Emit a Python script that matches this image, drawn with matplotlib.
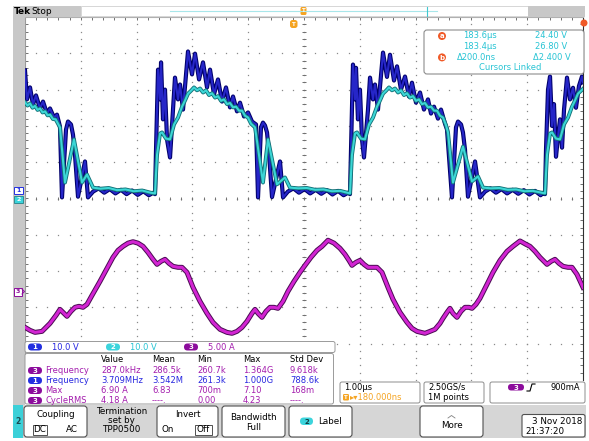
import numpy as np
import matplotlib
matplotlib.use("Agg")
import matplotlib.pyplot as plt
from matplotlib.patches import FancyBboxPatch, Rectangle, Circle
from matplotlib.collections import LineCollection

plt.rcParams['font.family'] = ['DejaVu Sans']

W, H = 589, 441

# acquisition settings
TIME_DIV = 1.0      # us/div
CH1_SCALE = 10.0    # V/div
CH2_SCALE = 10.0    # V/div
CH3_SCALE = 5.0     # A/div
CH3_POS = -2.53     # div

# channel 1: switch node, (time us, volts)
ch1_points = [
    (-5.000, 35.3), (-4.964, 27.3), (-4.910, 30.6), (-4.857, 25.9), (-4.803, 28.4),
    (-4.731, 24.8), (-4.677, 26.7), (-4.606, 23.4), (-4.552, 24.8), (-4.480, 22.3),
    (-4.427, 23.1), (-4.373, 19.8), (-4.337, 0.3), (-4.265, 19.0), (-4.229, 21.2),
    (-4.176, 20.4), (-4.140, 17.6), (-4.104, 12.0), (-4.050, 0.5), (-3.925, 10.2),
    (-3.871, 0.3), (-3.780, 1.9), (-3.68, 2.8), (-3.58, 1.6), (-3.48, 2.6),
    (-3.38, 1.4), (-3.28, 2.4), (-3.18, 1.2), (-3.08, 2.2), (-2.98, 1.0),
    (-2.88, 2.0), (-2.78, 0.9), (-2.70, 1.6),
    (-2.670, 1.2), (-2.652, 13.5), (-2.616, 35.5), (-2.580, 27.3), (-2.562, 37.5),
    (-2.527, 21.8), (-2.491, 30.0), (-2.455, 16.3), (-2.401, 11.3), (-2.347, 24.5),
    (-2.312, 33.3), (-2.258, 27.3), (-2.222, 31.4), (-2.168, 24.5), (-2.079, 40.5),
    (-2.007, 34.2), (-1.953, 39.9), (-1.881, 32.8), (-1.810, 37.5), (-1.738, 30.6),
    (-1.684, 35.5), (-1.613, 28.7), (-1.541, 32.8), (-1.469, 26.7), (-1.398, 30.6),
    (-1.326, 25.1), (-1.272, 28.1), (-1.201, 24.0), (-1.147, 26.4), (-1.075, 22.6),
    (-1.003, 23.7), (-0.932, 21.2), (-0.860, 20.4), (-0.824, 0.3), (-0.771, 19.6),
    (-0.735, 20.9), (-0.699, 20.1), (-0.663, 18.2), (-0.627, 12.5), (-0.573, 0.4),
    (-0.430, 10.2), (-0.376, 0.3), (-0.29, 1.9), (-0.19, 2.8), (-0.09, 1.6),
    (0.01, 2.6), (0.11, 1.4), (0.21, 2.4), (0.31, 1.3), (0.41, 2.3),
    (0.51, 1.1), (0.61, 2.1), (0.71, 0.9), (0.79, 1.6),
    (0.824, 1.2), (0.842, 13.5), (0.878, 36.9), (0.914, 27.3), (0.932, 36.0),
    (0.967, 21.8), (1.003, 30.0), (1.039, 16.3), (1.075, 11.3), (1.147, 24.5),
    (1.183, 33.3), (1.236, 27.3), (1.272, 31.4), (1.326, 24.5), (1.416, 40.2),
    (1.487, 33.5), (1.541, 39.6), (1.613, 32.5), (1.667, 36.4), (1.738, 30.0),
    (1.810, 33.6), (1.881, 28.1), (1.935, 31.9), (2.007, 26.4), (2.079, 29.2),
    (2.150, 24.5), (2.222, 27.3), (2.276, 23.4), (2.330, 25.3), (2.401, 22.0),
    (2.455, 24.5), (2.527, 20.6), (2.563, 19.0), (2.652, 0.3), (2.724, 19.6),
    (2.760, 21.2), (2.814, 20.4), (2.849, 18.2), (2.885, 13.5), (2.939, 0.5),
    (3.065, 10.2), (3.154, 0.3), (3.244, 1.9), (3.34, 2.8), (3.44, 1.6),
    (3.54, 2.6), (3.64, 1.4), (3.74, 2.4), (3.84, 1.3), (3.94, 2.3),
    (4.04, 1.1), (4.14, 2.1), (4.24, 0.9), (4.29, 1.6),
    (4.319, 1.2), (4.337, 13.5), (4.373, 30.0), (4.409, 33.6), (4.445, 20.0),
    (4.480, 26.0), (4.516, 11.5), (4.552, 17.0), (4.588, 21.8), (4.624, 14.0),
    (4.660, 24.5), (4.713, 33.3), (4.767, 27.3), (4.821, 30.5), (4.874, 25.0),
    (4.928, 31.0), (4.982, 33.6), (5.000, 32.0),
]

# channel 2: same node through the second probe (time us, volts)
ch2_points = [
    (-5.000, 26.5), (-4.955, 25.6), (-4.910, 26.2), (-4.865, 25.0), (-4.820, 25.5),
    (-4.775, 24.4), (-4.730, 24.8), (-4.685, 23.7), (-4.640, 24.0), (-4.595, 22.9),
    (-4.550, 23.1), (-4.500, 21.9), (-4.450, 21.8), (-4.373, 19.6), (-4.283, 4.4),
    (-4.122, 16.3), (-3.978, 4.4), (-3.889, 6.6), (-3.781, 3.0), (-3.65, 2.7),
    (-3.50, 2.9), (-3.35, 2.3), (-3.20, 2.5), (-3.05, 2.0), (-2.90, 2.2),
    (-2.75, 1.6), (-2.670, 1.4),
    (-2.634, 12.0), (-2.580, 17.9), (-2.544, 18.2), (-2.473, 16.5), (-2.401, 16.3),
    (-2.329, 20.4), (-2.257, 22.3), (-2.186, 25.3), (-2.132, 27.0), (-2.078, 28.9),
    (-2.024, 29.7), (-1.971, 30.6), (-1.917, 29.8), (-1.863, 30.3), (-1.809, 29.2),
    (-1.756, 29.8), (-1.702, 28.5), (-1.648, 29.0), (-1.594, 27.8), (-1.541, 28.2),
    (-1.487, 26.9), (-1.433, 27.3), (-1.379, 26.0), (-1.326, 26.3), (-1.272, 25.1),
    (-1.218, 25.3), (-1.164, 24.2), (-1.111, 24.2), (-1.057, 22.8), (-1.003, 22.3),
    (-0.949, 20.6), (-0.878, 19.6), (-0.735, 4.4), (-0.645, 16.3), (-0.484, 3.9),
    (-0.341, 5.8), (-0.251, 3.0), (-0.10, 2.8), (0.05, 2.9), (0.20, 2.4),
    (0.35, 2.5), (0.50, 2.0), (0.65, 2.1), (0.78, 1.6), (0.824, 1.4),
    (0.860, 12.0), (0.914, 17.9), (0.950, 18.2), (1.021, 16.5), (1.093, 16.3),
    (1.165, 20.4), (1.237, 22.3), (1.308, 25.3), (1.362, 27.0), (1.416, 28.9),
    (1.470, 29.7), (1.523, 30.6), (1.577, 29.8), (1.631, 30.3), (1.685, 29.2),
    (1.738, 29.8), (1.792, 28.5), (1.846, 29.0), (1.900, 27.8), (1.953, 28.2),
    (2.007, 26.9), (2.061, 27.3), (2.115, 26.0), (2.168, 26.3), (2.222, 25.1),
    (2.276, 25.3), (2.330, 24.2), (2.383, 24.2), (2.437, 22.8), (2.491, 22.3),
    (2.545, 20.2), (2.581, 18.2), (2.670, 4.4), (2.849, 14.3), (3.011, 4.7),
    (3.118, 6.1), (3.208, 3.0), (3.35, 2.8), (3.50, 2.9), (3.65, 2.4),
    (3.80, 2.5), (3.95, 2.0), (4.10, 2.1), (4.25, 1.6), (4.319, 1.4),
    (4.355, 12.0), (4.409, 17.9), (4.445, 18.2), (4.516, 16.5), (4.588, 16.3),
    (4.660, 20.4), (4.732, 22.3), (4.803, 25.3), (4.857, 27.0), (4.911, 28.9),
    (4.965, 29.7), (5.000, 30.2),
]

# channel 3: inductor current (time us, amps)
ch3_points = [
    (-5.000, -5.10), (-4.910, -5.51), (-4.821, -5.79), (-4.695, -5.65), (-4.552, -4.55),
    (-4.444, -3.44), (-4.373, -2.62), (-4.301, -3.17), (-4.247, -3.58), (-4.176, -2.89),
    (-4.104, -2.34), (-4.032, -2.20), (-3.961, -2.34), (-3.889, -1.93), (-3.799, -0.69),
    (-3.656, 1.24), (-3.530, 3.03), (-3.423, 4.55), (-3.333, 5.51), (-3.244, 6.06),
    (-3.154, 6.50), (-3.065, 6.70), (-2.975, 6.50), (-2.885, 6.06), (-2.796, 5.23),
    (-2.706, 4.27), (-2.634, 3.58), (-2.563, 3.99), (-2.491, 4.27), (-2.419, 3.72),
    (-2.348, 3.31), (-2.258, 3.17), (-2.186, 3.17), (-2.097, 2.48), (-1.989, 0.41),
    (-1.864, -1.52), (-1.738, -3.17), (-1.631, -4.41), (-1.505, -5.37), (-1.380, -5.79),
    (-1.290, -5.92), (-1.201, -5.65), (-1.111, -5.10), (-1.022, -4.27), (-0.932, -3.17),
    (-0.878, -2.62), (-0.824, -3.17), (-0.753, -3.72), (-0.681, -2.89), (-0.609, -2.34),
    (-0.538, -2.34), (-0.466, -2.48), (-0.376, -1.52), (-0.287, -0.14), (-0.179, 1.24),
    (-0.072, 2.48), (0.018, 3.44), (0.125, 4.55), (0.233, 5.51), (0.323, 6.06),
    (0.430, 6.90), (0.538, 6.50), (0.645, 5.79), (0.735, 4.96), (0.806, 4.13),
    (0.860, 3.44), (0.932, 3.86), (1.004, 4.13), (1.075, 3.58), (1.147, 3.17),
    (1.237, 3.17), (1.308, 3.17), (1.398, 2.48), (1.505, 0.41), (1.595, -1.24),
    (1.720, -3.03), (1.846, -4.41), (1.935, -5.23), (2.025, -5.65), (2.168, -5.92),
    (2.258, -5.65), (2.348, -5.37), (2.437, -4.55), (2.491, -3.86), (2.563, -3.03),
    (2.616, -2.48), (2.670, -3.17), (2.742, -3.72), (2.814, -2.89), (2.885, -2.34),
    (2.957, -2.34), (3.011, -2.48), (3.082, -1.93), (3.154, -1.10), (3.280, 0.83),
    (3.387, 2.48), (3.513, 4.13), (3.638, 5.37), (3.745, 6.06), (3.871, 6.80),
    (3.978, 6.34), (4.050, 6.06), (4.140, 5.37), (4.229, 4.55), (4.355, 3.58),
    (4.427, 3.99), (4.498, 4.27), (4.570, 3.72), (4.642, 3.31), (4.731, 3.17),
    (4.803, 3.17), (4.892, 2.20), (5.000, 0.41),
]

# readouts
channel_scales = ["10.0 V", "10.0 V", "5.00 A"]
meas_header = ["Value", "Mean", "Min", "Max", "Std Dev"]
meas_rows = [
    ("3", "Frequency", ["287.0kHz", "286.5k", "260.7k", "1.364G", "9.618k"]),
    ("1", "Frequency", ["3.709MHz", "3.542M", "261.3k", "1.000G", "788.6k"]),
    ("3", "Max", ["6.90 A", "6.83", "700m", "7.10", "168m"]),
    ("3", "CycleRMS", ["4.18 A", "----.", "0.00", "4.23", "----."]),
]
cursor_rows = [
    ("a", "183.6\u00b5s", "24.40 V"),
    ("", "183.4\u00b5s", "26.80 V"),
    ("b", "\u0394200.0ns", "\u03942.400 V"),
]

CH1_DARK, CH1_COL = '#00006a', '#2626c8'
CH2_DARK, CH2_COL = '#127278', '#3cd6d6'
CH3_DARK, CH3_COL = '#4a0c52', '#d224d2'
BLUE_TXT = '#2828e0'
CYAN_TXT = '#28c4d4'
PURPLE_TXT = '#a41eae'
PILL = {'1': '#2430e0', '2': '#3cd4dc', '3': '#8c0c9c'}
ORANGE = '#f5a422'
GRAY = '#c8c8c8'

fig = plt.figure(figsize=(W / 100, H / 100), dpi=100)

# ---- graticule ----
ax = fig.add_axes([25 / W, 1 - 380 / H, 558 / W, 363 / H])
ax.set_xlim(-5, 5)
ax.set_ylim(-5, 5)
ax.set_xticks([])
ax.set_yticks([])
for s in ['bottom']:
    ax.spines[s].set_visible(False)
ax.spines['left'].set_color('#9a9a9a')
ax.spines['top'].set_color('#b0b0b0')
ax.spines['right'].set_color('#303030')
for s in ['left', 'top', 'right']:
    ax.spines[s].set_linewidth(0.8)

minor = np.arange(-5, 5.001, 0.2)
for g in range(-4, 5):
    if g == 0:
        continue
    ax.plot(np.full_like(minor, g), minor, ls='none', marker='s', ms=0.9,
            mew=0, color='#8a8a8a', zorder=1)
    ax.plot(minor, np.full_like(minor, g), ls='none', marker='s', ms=0.9,
            mew=0, color='#8a8a8a', zorder=1)

segs = []
for m in minor:
    segs.append([(m, -0.05), (m, 0.05)])       # centre horizontal
    segs.append([(-0.04, m), (0.04, m)])       # centre vertical
    segs.append([(m, 5), (m, 4.93)])           # top edge
    segs.append([(-5, m), (-4.94, m)])         # left edge
    segs.append([(5, m), (4.94, m)])           # right edge
ax.add_collection(LineCollection(segs, colors='#707070', linewidths=0.7, zorder=1))
ax.plot(minor, np.zeros_like(minor), ls='none', marker='s', ms=0.9, mew=0, color='#707070')
ax.plot(np.zeros_like(minor), minor, ls='none', marker='s', ms=0.9, mew=0, color='#707070')


def trace(points, scale, pos, dark, col, wd, wc):
    t = np.array([p[0] for p in points]) / TIME_DIV
    y = np.array([p[1] for p in points]) / scale + pos
    ax.plot(t, y, color=dark, lw=wd, solid_joinstyle='round', zorder=3)
    ax.plot(t, y, color=col, lw=wc, solid_joinstyle='round', zorder=3)


trace(ch1_points, CH1_SCALE, 0.0, CH1_DARK, CH1_COL, 3.0, 1.5)
trace(ch2_points, CH2_SCALE, 0.0, CH2_DARK, CH2_COL, 2.8, 1.5)
trace(ch3_points, CH3_SCALE, CH3_POS, CH3_DARK, CH3_COL, 3.6, 2.2)

# ---- screen furniture, in pixel coordinates ----
ov = fig.add_axes([0, 0, 1, 1])
ov.set_xlim(0, W)
ov.set_ylim(H, 0)
ov.axis('off')
ov.patch.set_alpha(0)


def rect(x0, y0, x1, y1, fc, ec='none', lw=0.8, r=0):
    if r:
        p = FancyBboxPatch((x0, y0), x1 - x0, y1 - y0,
                           boxstyle=f"round,pad=0,rounding_size={r}",
                           fc=fc, ec=ec, lw=lw)
    else:
        p = Rectangle((x0, y0), x1 - x0, y1 - y0, fc=fc, ec=ec, lw=lw)
    ov.add_patch(p)


def txt(x, y, s, c='black', size=6, ha='left', **kw):
    ov.text(x, y, s, color=c, fontsize=size, ha=ha, va='center', **kw)


def pill(x0, y0, x1, y1, label, fc, tc='white'):
    rect(x0, y0, x1, y1, fc, r=(y1 - y0) / 2)
    txt((x0 + x1) / 2, (y0 + y1) / 2 + 0.3, label, tc, size=5, ha='center',
        weight='bold')


# left strip and top bar
rect(13, 6, 24.5, 405, GRAY)
rect(13, 6, 81, 16.5, GRAY)
txt(14, 11.5, "Tek", size=6.5, weight='bold')
txt(31, 11.5, "Stop", size=6.5)
rect(81, 6, 528, 16, 'white', ec='#d0d0d0', lw=0.6)
ov.plot([170, 437], [11, 11], color='#a8e6ea', lw=0.8)
ov.plot([427, 427], [7, 16], color='#40c8d0', lw=0.8)
rect(528, 6, 585, 16.5, GRAY)
rect(300.5, 7, 306.5, 15, ORANGE, r=1.5)
txt(303.5, 11, "T", 'white', size=4, ha='center', weight='bold')
rect(290, 20, 297.5, 28, ORANGE, r=2.5)
txt(293.8, 24, "T", 'white', size=4, ha='center', weight='bold')
ov.add_patch(Circle((584, 23), 3.5, fc='#f05a28', ec='none'))

# channel ground markers
rect(14, 187, 23, 194, 'white', ec=PILL['1'], lw=0.7)
txt(18.5, 190.5, "1", PILL['1'], size=4.5, ha='center', weight='bold')
rect(14, 196, 23, 203, PILL['2'], ec=CH2_DARK, lw=0.5)
txt(18.5, 199.5, "2", 'white', size=4.5, ha='center', weight='bold')
rect(13.5, 287.5, 22, 295.5, 'white', ec=PILL['3'], lw=0.7)
txt(17.8, 291.5, "3", PILL['3'], size=4.5, ha='center', weight='bold')
ov.plot([22, 24.5, 22], [289, 291.5, 294], color=PILL['3'], lw=0.7)

# cursor readout
rect(424, 30, 584, 74, 'white', ec='#8c8c8c', lw=0.8, r=3)
for i, (tag, tv, vv) in enumerate(cursor_rows):
    y = 36 + i * 10.7
    if tag:
        ov.add_patch(Circle((442, y), 4, fc='#f05a28', ec='none'))
        txt(442, y + 0.2, tag, 'white', size=5, ha='center', weight='bold')
    txt(463 if tag != 'b' else 457, y, tv, CYAN_TXT)
    txt(535 if tag != 'b' else 533, y, vv, CYAN_TXT)
txt(510, 68, "Cursors Linked", CYAN_TXT, ha='center')

# vertical scale readout
rect(25, 341.5, 335, 352.5, 'white', ec='#9a9a9a', lw=0.7, r=2)
for (x0, lab, col), s in zip([(28, '1', BLUE_TXT), (106, '2', CYAN_TXT),
                              (184, '3', PURPLE_TXT)], channel_scales):
    pill(x0, 343.5, x0 + 14, 350.5, lab, PILL[lab])
    txt(x0 + 24, 347, s, col)

# measurement table
rect(25, 353.5, 333.5, 404, 'white', ec='#9a9a9a', lw=0.7, r=2)
cols_x = [101, 152, 197, 243, 290]
for x, h in zip(cols_x, meas_header):
    txt(x, 360, h)
for i, (ch, name, vals) in enumerate(meas_rows):
    y = 370.5 + i * 10
    col = BLUE_TXT if ch == '1' else PURPLE_TXT
    pill(28, y - 3.5, 42, y + 3.5, ch, PILL[ch])
    txt(45, y, name, col)
    for x, v in zip(cols_x, vals):
        txt(x, y, v, col)

# timebase / acquisition / trigger readouts
rect(340, 382, 420, 403, 'white', ec='#8c8c8c', lw=0.7, r=2)
txt(344, 387.5, "1.00\u00b5s")
rect(343, 394, 349, 400.5, ORANGE, r=1.2)
txt(346, 397.3, "T", 'white', size=4, ha='center', weight='bold')
txt(350, 397.3, "\u25b8\u25be180.000ns", ORANGE)
rect(424, 382, 484, 403, 'white', ec='#8c8c8c', lw=0.7, r=2)
txt(428, 387.5, "2.50GS/s")
txt(428, 397.3, "1M points")
rect(490, 382, 585, 403, 'white', ec='#8c8c8c', lw=0.7, r=2)
pill(508, 384, 524, 390.5, '3', PILL['3'])
ov.plot([527, 530, 532, 535], [391, 391, 384, 384], color='black', lw=0.8)
txt(580, 387.5, "900mA", ha='right')

# soft-key menu
rect(23, 405, 586, 437.5, '#d6d6d6')
rect(13, 405, 23, 437.5, '#3cd0d8')
txt(18, 421, "2", '#1a4a50', size=5.5, ha='center', weight='bold')
rect(24, 406, 87, 437, 'white', ec='#505050', lw=0.8, r=3)
txt(55.5, 414.5, "Coupling", ha='center', size=6.3)
rect(32.5, 424.5, 47, 435, 'white', ec='#505050', lw=0.7)
txt(39.8, 430, "DC", ha='center', size=6.3)
txt(72, 430, "AC", ha='center', size=6.3)
txt(121.5, 411, "Termination", ha='center', size=6.3)
txt(121.5, 420.5, "set by", ha='center', size=6.3)
txt(121.5, 430, "TPP0500", ha='center', size=6.3)
rect(157, 406, 218, 437, 'white', ec='#505050', lw=0.8, r=3)
txt(187.5, 414.5, "Invert", ha='center', size=6.3)
txt(168, 430, "On", ha='center', size=6.3)
rect(195, 424.5, 212, 435, 'white', ec='#505050', lw=0.7)
txt(203.5, 430, "Off", ha='center', size=6.3)
rect(222, 406, 285, 437, 'white', ec='#505050', lw=0.8, r=3)
txt(253.5, 417, "Bandwidth", ha='center', size=6.3)
txt(253.5, 427, "Full", ha='center', size=6.3)
rect(289, 406, 352, 437, 'white', ec='#505050', lw=0.8, r=3)
pill(300, 417.5, 313, 425, '2', PILL['2'], tc='#103a40')
txt(318, 421.3, "Label", size=6.3)
rect(420, 406, 483, 437, 'white', ec='#505050', lw=0.8, r=3)
ov.plot([448, 451.5, 455], [418, 415.5, 418], color='#808080', lw=0.6)
txt(451.5, 425, "More", ha='center', size=6.3)
rect(522, 414.5, 585, 437, 'white', ec='#505050', lw=0.8, r=2)
txt(582, 421, "3 Nov 2018", ha='right', size=6.3)
txt(525, 431, "21:37:20", size=6.3)

fig.savefig("out.png", dpi=100)
